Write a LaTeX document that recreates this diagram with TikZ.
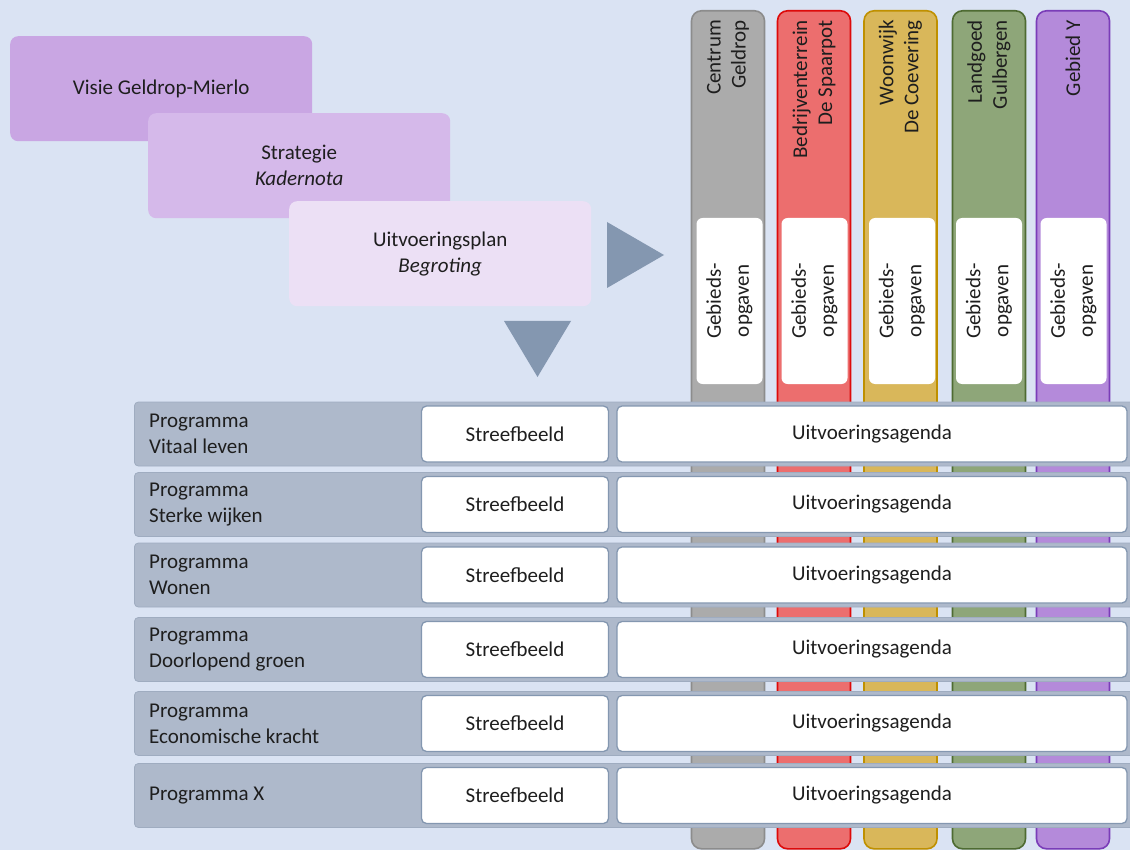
\documentclass[tikz,border=0pt]{standalone}
\usepackage{fontspec}
\setmainfont{Carlito}
\usetikzlibrary{calc}
\definecolor{bg}{HTML}{DAE3F3}
\definecolor{arrowc}{HTML}{8497B0}
\definecolor{rowc}{HTML}{AEB9CB}
\definecolor{rowd}{HTML}{9FACC0}
\definecolor{boxd}{HTML}{8497B0}
\definecolor{txt}{HTML}{1E1E1E}
\definecolor{visc}{HTML}{C9A6E3}
\definecolor{strc}{HTML}{D5B9EA}
\definecolor{uitc}{HTML}{ECE0F5}
\definecolor{grayF}{HTML}{ABABAB}
\definecolor{grayD}{HTML}{8C8C8C}
\definecolor{redF}{HTML}{EC6E6E}
\definecolor{redD}{HTML}{DD0A0A}
\definecolor{yelF}{HTML}{D9B75A}
\definecolor{yelD}{HTML}{BF9000}
\definecolor{grnF}{HTML}{8EA679}
\definecolor{grnD}{HTML}{4E6B32}
\definecolor{purF}{HTML}{B48ADA}
\definecolor{purD}{HTML}{7A3DB8}
\begin{document}
\begin{tikzpicture}[x=1pt,y=-1pt,
  every node/.style={text=txt, font=\fontsize{21}{26}\selectfont, inner sep=0pt},
  stage/.style={fill=#1, rounded corners=8pt, minimum width=302pt, minimum height=105pt,
    anchor=north west, align=center},
  areacol/.style n args={2}{fill=#1, draw=#2, line width=1.6pt, rounded corners=10pt,
    minimum width=73pt, minimum height=838pt, anchor=north},
  coltitle/.style={rotate=90, anchor=east, align=right, font=\fontsize{21}{25}\selectfont},
  gbox/.style={fill=white, rounded corners=6pt, rotate=90, minimum width=166pt,
    minimum height=66pt, align=center, font=\fontsize{21}{28}\selectfont},
  progrow/.style={fill=rowc, draw=rowd, line width=0.8pt, rounded corners=4pt,
    minimum width=1010pt, minimum height=64pt, anchor=west},
  rowlabel/.style={anchor=west, align=left},
  wbox/.style={fill=white, draw=boxd, line width=1.3pt, rounded corners=5pt,
    minimum height=56pt},
  sbox/.style={wbox, minimum width=187pt},
  ubox/.style={wbox, minimum width=510pt}
]
\clip (0,0) rectangle (1130,850);
\fill[bg] (0,0) rectangle (1130,850);

% stages
\node[stage=visc] (visie) at (10,36) {Visie Geldrop-Mierlo};
\node[stage=strc] (strat) at (148,113) {Strategie\\\textit{Kadernota}};
\node[stage=uitc] (uitv) at (289,201) {Uitvoeringsplan\\\textit{Begroting}};

% triangles
\fill[arrowc] (607,222) -- (607,288) -- (664,255) -- cycle;
\fill[arrowc] (504,321) -- (571,321) -- (537.5,377) -- cycle;

% area columns
\node[areacol={grayF}{grayD}] (c1) at (728,10) {};
\node[areacol={redF}{redD}] (c2) at (814,10) {};
\node[areacol={yelF}{yelD}] (c3) at (900.5,10) {};
\node[areacol={grnF}{grnD}] (c4) at (989,10) {};
\node[areacol={purF}{purD}] (c5) at (1073,10) {};

\node[coltitle] (t1) at ($(c1.north)+(0,10)$) {Centrum\\Geldrop};
\node[coltitle] (t2) at ($(c2.north)+(0,10)$) {Bedrijventerrein\\De Spaarpot};
\node[coltitle] (t3) at ($(c3.north)+(0,10)$) {Woonwijk\\De Coevering};
\node[coltitle] (t4) at ($(c4.north)+(0,10)$) {Landgoed\\Gulbergen};
\node[coltitle] (t5) at ($(c5.north)+(0,10)$) {Gebied Y};

\node[gbox] (g1) at (729.5,301) {Gebieds-\\opgaven};
\node[gbox] (g2) at (814.5,301) {Gebieds-\\opgaven};
\node[gbox] (g3) at (902,301) {Gebieds-\\opgaven};
\node[gbox] (g4) at (989,301) {Gebieds-\\opgaven};
\node[gbox] (g5) at (1073.5,301) {Gebieds-\\opgaven};

% program rows
\foreach \i/\y/\lab in {1/434/{Programma\\Vitaal leven},
                        2/504.5/{Programma\\Sterke wijken},
                        3/575/{Programma\\Wonen},
                        4/649.5/{Programma\\Doorlopend groen},
                        5/723.5/{Programma\\Economische kracht},
                        6/795.5/{Programma X}}{
  \node[progrow] (r\i) at (134,\y) {};
  \node[rowlabel] (l\i) at (149,\y) {\lab};
  \node[sbox] (s\i) at (515,\y) {Streefbeeld};
  \node[ubox] (u\i) at (872,\y) {Uitvoeringsagenda};
}
\end{tikzpicture}
\end{document}
